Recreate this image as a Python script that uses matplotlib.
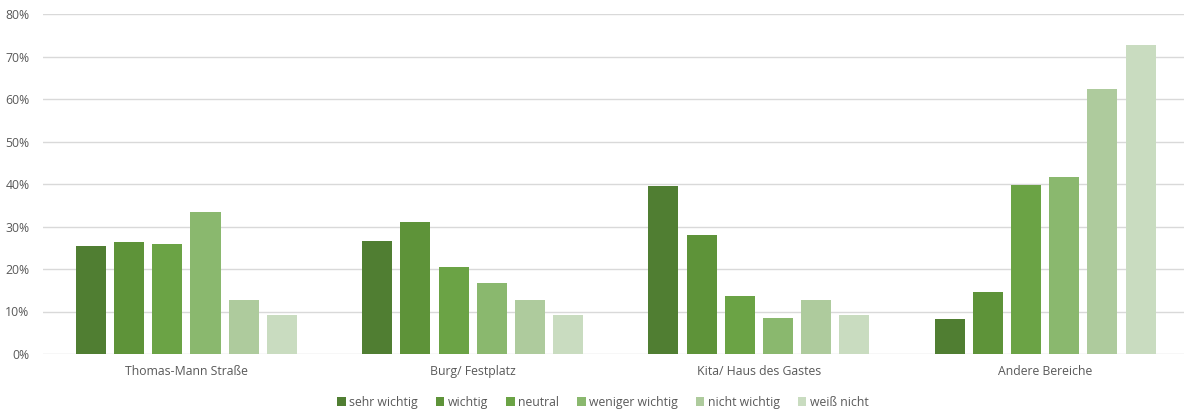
import matplotlib.pyplot as plt
import numpy as np
from matplotlib.ticker import FuncFormatter

kategorien = ["Thomas-Mann Straße", "Burg/ Festplatz", "Kita/ Haus des Gastes", "Andere Bereiche"]
serien = ["sehr wichtig", "wichtig", "neutral", "weniger wichtig", "nicht wichtig", "weiß nicht"]
sehr_wichtig = [25.5, 26.7, 39.5, 8.2]
wichtig = [26.4, 31.0, 28.0, 14.6]
neutral = [26.0, 20.5, 13.7, 39.7]
weniger_wichtig = [33.4, 16.6, 8.4, 41.6]
nicht_wichtig = [12.6, 12.6, 12.6, 62.4]
weiss_nicht = [9.1, 9.1, 9.1, 72.6]
werte = [sehr_wichtig, wichtig, neutral, weniger_wichtig, nicht_wichtig, weiss_nicht]
farben = ["#507e32", "#5e9339", "#6ba345", "#8ab86e", "#aecb9d", "#c9dcc0"]

plt.rcParams['font.family'] = ['Open Sans', 'DejaVu Sans']

fig = plt.figure(figsize=(11.84, 4.11), dpi=100)
# Achse etwas breiter als das Bild, wie im Original
ax = fig.add_axes([43.3/1184, 1-354/411, 1145/1184, 340/411])

x = np.arange(len(kategorien))
step = 0.1334
breite = 0.105
for i, (name, vals) in enumerate(zip(serien, werte)):
    ax.bar(x + (i - 2.5)*step, vals, breite, color=farben[i], label=name, zorder=3)

ax.set_xlim(-0.5, 3.5)
ax.set_ylim(0, 80)
ax.set_yticks(np.arange(0, 81, 10))
ax.yaxis.set_major_formatter(FuncFormatter(lambda v, p: "%d%%" % v))
ax.set_xticks(x)
ax.set_xticklabels(kategorien)
ax.grid(axis='y', color='#d9d9d9', linewidth=1, zorder=0)
for s in ax.spines.values():
    s.set_visible(False)
ax.tick_params(axis='both', length=0, colors='#595959', labelsize=8.8)
ax.tick_params(axis='x', pad=8)
ax.tick_params(axis='y', pad=10)

fig.legend(loc='center', bbox_to_anchor=(603/1184, 1-402/411), ncol=6, frameon=False,
           fontsize=8.8, handlelength=0.7, handleheight=0.7, handletextpad=0.3,
           columnspacing=1.45, labelcolor='#595959')

fig.savefig('out.png', dpi=100)
